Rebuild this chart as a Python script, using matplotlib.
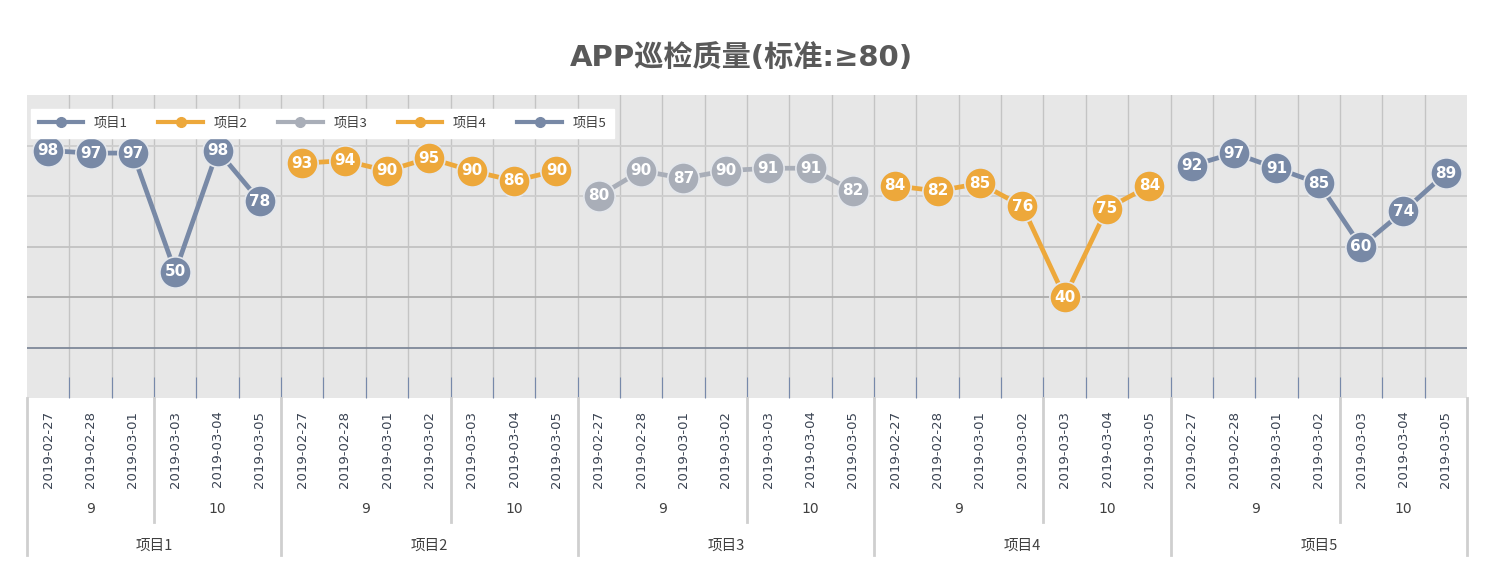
import matplotlib
matplotlib.use("Agg")
import matplotlib.pyplot as plt
import matplotlib.transforms as mtransforms
from matplotlib.lines import Line2D
import numpy as np

plt.rcParams['font.family'] = ['DejaVu Sans', 'Noto Sans CJK SC']

# 数据
projects = ['项目1', '项目2', '项目3', '项目4', '项目5']
dates_p1 = ['2019-02-27', '2019-02-28', '2019-03-01', '2019-03-03', '2019-03-04', '2019-03-05']
dates_all = ['2019-02-27', '2019-02-28', '2019-03-01', '2019-03-02', '2019-03-03', '2019-03-04', '2019-03-05']
dates = [dates_p1, dates_all, dates_all, dates_all, dates_all]
group_names = ['9', '10']
group_sizes = [[3, 3], [4, 3], [4, 3], [4, 3], [4, 3]]

vals_p1 = [98, 97, 97, 50, 98, 78]
vals_p2 = [93, 94, 90, 95, 90, 86, 90]
vals_p3 = [80, 90, 87, 90, 91, 91, 82]
vals_p4 = [84, 82, 85, 76, 40, 75, 84]
vals_p5 = [92, 97, 91, 85, 60, 74, 89]
values = [vals_p1, vals_p2, vals_p3, vals_p4, vals_p5]

colors = ['#7889A6', '#EDA83B', '#A9AEB8', '#EDA83B', '#7889A6']

fig = plt.figure(figsize=(14.89, 5.77), dpi=100)
ax = fig.add_axes([27/1489, 1 - 398/577, (1467 - 27)/1489, (398 - 95)/577])
ax.set_facecolor('#E7E7E7')

n_total = sum(len(d) for d in dates)
ax.set_xlim(-0.5, n_total - 0.5)
ax.set_ylim(0, 120)

# 网格
for b in np.arange(0.5, n_total - 0.5, 1):
    ax.axvline(b, color='#C4C4C4', lw=1, zorder=1)
grid_cols = {20: '#7E8899', 40: '#ABABAB', 60: '#C2C2C2', 80: '#CDCDCD', 100: '#CDCDCD'}
for yv, c in grid_cols.items():
    ax.axhline(yv, color=c, lw=1.3, zorder=1)

for s in ax.spines.values():
    s.set_visible(False)

# 折线
handles = []
start = 0
xs_all = []
labels_all = []
for i, (name, v) in enumerate(zip(projects, values)):
    x = np.arange(start, start + len(v))
    ax.plot(x, v, color=colors[i], lw=3.4, marker='o', markersize=22.5,
            markerfacecolor=colors[i], markeredgecolor='#E4E7EC', markeredgewidth=1.2, zorder=3)
    for xi, vi in zip(x, v):
        ax.text(xi, vi, str(vi), ha='center', va='center', color='white',
                fontsize=11, fontweight='bold', zorder=4)
    handles.append(Line2D([], [], color=colors[i], lw=3, marker='o', markersize=7))
    xs_all.extend(x)
    labels_all.extend(dates[i])
    start += len(v)

ax.set_yticks([])
ax.set_xticks(xs_all)
ax.set_xticklabels(labels_all, rotation=90, fontsize=9.5, color='#3A4352', va='top')
ax.tick_params(axis='x', length=0, pad=9)
ax.set_xticks(np.arange(0.5, n_total - 0.5, 1), minor=True)
ax.tick_params(axis='x', which='minor', direction='in', length=15, color='#7789AA', width=0.8)

# 多级分类轴
trans = mtransforms.blended_transform_factory(ax.transData, ax.transAxes)
sep_col = '#CFCFCF'
h_ax = 398 - 95
start = 0
ax.plot([-0.5, -0.5], [0, -(555 - 398)/h_ax], transform=trans, color=sep_col, lw=2, clip_on=False)
for i, name in enumerate(projects):
    g0 = start
    for gname, gsize in zip(group_names, group_sizes[i]):
        ax.text(g0 + (gsize - 1)/2, -(509 - 398)/h_ax, gname, transform=trans,
                ha='center', va='center', fontsize=10, color='#404040')
        g0 += gsize
        if g0 < start + len(dates[i]):
            ax.plot([g0 - 0.5, g0 - 0.5], [0, -(522 - 398)/h_ax], transform=trans,
                    color=sep_col, lw=2, clip_on=False)
    n = len(dates[i])
    ax.text(start + (n - 1)/2, -(546 - 398)/h_ax, name, transform=trans,
            ha='center', va='center', fontsize=10.5, color='#404040',
            family=['Noto Sans CJK SC', 'DejaVu Sans'])
    start += n
    ax.plot([start - 0.5, start - 0.5], [0, -(555 - 398)/h_ax], transform=trans,
            color=sep_col, lw=2, clip_on=False)

# 图例
leg = ax.legend(handles, projects, loc='upper left', bbox_to_anchor=(-0.002, 0.975),
                ncol=5, frameon=True, fancybox=False, handlelength=3.4, handletextpad=0.8,
                columnspacing=2.3, borderpad=0.6,
                prop={'family': ['Noto Sans CJK SC', 'DejaVu Sans'], 'size': 9.5})
leg.get_frame().set_facecolor('white')
leg.get_frame().set_edgecolor('white')
leg.get_frame().set_alpha(1)
for t in leg.get_texts():
    t.set_color('#404040')

fig.text(0.498, 1 - 58/577, 'APP巡检质量(标准:≥80)', ha='center', va='center',
         fontsize=21, fontweight='bold', color='#595959',
         family=['DejaVu Sans', 'Noto Sans CJK SC'])

fig.savefig('out.png', dpi=100, facecolor='white')
